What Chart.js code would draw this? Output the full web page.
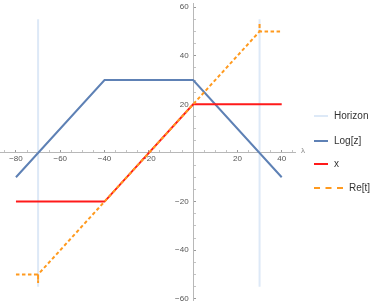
<!DOCTYPE html>
<html>
<head>
<meta charset="utf-8">
<script src="https://cdn.jsdelivr.net/npm/chart.js@4/dist/chart.umd.min.js"></script>
<style>
  body { margin: 0; background: #fff; }
  #wrap { position: relative; width: 374px; height: 308px; }
  #legend { position: absolute; left: 0; top: 0; font-family: "Liberation Sans", Arial, sans-serif; font-size: 10px; color: #333; }
  .item { position: absolute; white-space: nowrap; }
  .swatch { position: absolute; top: 0; }
  .label { position: absolute; top: -6px; }
</style>
</head>
<body>
<div id="wrap">
  <canvas id="my-chart" width="374" height="308"></canvas>
  <div id="legend"></div>
</div>
<script>
// data
const lineX = [-80, -40, 0, 40];
const logZ = [-10, 30, 30, -10];
const xLine = [-20, -20, 20, 20];

const reTX = [-80, -70, -70, -70, 30, 30, 30, 40];
const reTY = [-50, -50, -53.5, -50, 50, 53.5, 50, 50];

const horizonX = [-70, 30];
const horizonTop = 55;
const horizonBottom = -55;

const xTicks = [-80, -60, -40, -20, 20, 40];
const yTicks = [-60, -40, -20, 20, 40, 60];

const names = ["Horizon", "Log[z]", "x", "Re[t]"];

const toPoints = (xs, ys) => xs.map((x, i) => ({ x: x, y: ys[i] }));

// each horizon is its own vertical segment, null breaks the line
const horizonPts = [];
horizonX.forEach((x) => {
  horizonPts.push({ x: x, y: horizonBottom }, { x: x, y: horizonTop }, { x: x, y: null });
});

const fontFamily = "'Liberation Sans', Arial, sans-serif";

function tickColor(ctx) {
  const v = ctx.tick ? ctx.tick.value : 0;
  if (v === 0) return "rgba(0,0,0,0)";
  return v % 20 === 0 ? "#999" : "#c4c4c4";
}

function fmt(list, tail) {
  return function (value) {
    if (!list.includes(value)) return "";
    return (value < 0 ? "\u2212" + Math.abs(value) : String(value)) + tail;
  };
}

const noPad = (scale) => {
  scale.paddingLeft = 0;
  scale.paddingRight = 0;
  scale.paddingTop = 0;
  scale.paddingBottom = 0;
};

const lambdaLabel = {
  id: "lambdaLabel",
  afterDraw(chart) {
    const ctx = chart.ctx;
    const xs = chart.scales.x;
    const ys = chart.scales.y;
    ctx.save();
    ctx.font = "8px " + fontFamily;
    ctx.fillStyle = "#888";
    ctx.textAlign = "left";
    ctx.textBaseline = "middle";
    ctx.fillText("\u03bb", xs.right + 6, ys.getPixelForValue(0) - 2);
    ctx.restore();
  },
};

const ctx = document.getElementById("my-chart").getContext("2d");
const chart = new Chart(ctx, {
  type: "scatter",
  data: {
    datasets: [
      {
        label: names[0],
        data: horizonPts,
        showLine: true,
        spanGaps: false,
        borderColor: "#dde9f7",
        borderWidth: 2,
        pointRadius: 0,
        order: 3,
      },
      {
        label: names[1],
        data: toPoints(lineX, logZ),
        showLine: true,
        borderColor: "#5e81b5",
        borderWidth: 2,
        pointRadius: 0,
        order: 2,
      },
      {
        label: names[2],
        data: toPoints(lineX, xLine),
        showLine: true,
        borderColor: "#ff1a1a",
        borderWidth: 2,
        pointRadius: 0,
        order: 1,
      },
      {
        label: names[3],
        data: toPoints(reTX, reTY),
        showLine: true,
        borderColor: "#ff9a1f",
        borderWidth: 2,
        borderDash: [3.5, 2.5],
        pointRadius: 0,
        order: 0,
      },
    ],
  },
  options: {
    responsive: false,
    devicePixelRatio: 1,
    animation: false,
    layout: { padding: { left: 0, right: 79, top: 3, bottom: 8 } },
    plugins: { legend: { display: false }, tooltip: { enabled: false } },
    scales: {
      x: {
        type: "linear",
        min: -87.2,
        max: 46,
        position: { y: 0 },
        afterFit: noPad,
        border: { color: "#b8b8b8", width: 1 },
        grid: { drawOnChartArea: false, tickLength: -3, color: tickColor },
        ticks: {
          stepSize: 5,
          includeBounds: false,
          autoSkip: false,
          maxRotation: 0,
          padding: 4,
          color: "#555",
          font: { size: 8, family: fontFamily },
          callback: fmt(xTicks, ""),
        },
      },
      y: {
        type: "linear",
        min: -60.5,
        max: 61.7,
        position: { x: 0 },
        afterFit: noPad,
        border: { color: "#b8b8b8", width: 1 },
        grid: { drawOnChartArea: false, tickLength: -3, color: tickColor },
        ticks: {
          stepSize: 5,
          includeBounds: false,
          autoSkip: false,
          padding: 1,
          color: "#555",
          font: { size: 8, family: fontFamily },
          // trailing spaces keep the right-aligned labels off the axis line
          callback: fmt(yTicks, "  "),
        },
      },
    },
  },
  plugins: [lambdaLabel],
});

// legend built from the datasets
const legendPos = [116, 141, 164, 188];
const swatchLen = [14, 14, 14, 29];
const $legend = document.getElementById("legend");
chart.data.datasets.forEach((ds, i) => {
  const item = document.createElement("div");
  item.className = "item";
  item.style.left = "314px";
  item.style.top = legendPos[i] + "px";
  const sw = document.createElement("div");
  sw.className = "swatch";
  sw.style.width = swatchLen[i] + "px";
  sw.style.top = "-1px";
  sw.style.borderTop = "2px " + (ds.borderDash ? "dashed " : "solid ") + ds.borderColor;
  const lab = document.createElement("div");
  lab.className = "label";
  lab.style.left = swatchLen[i] + 6 + "px";
  lab.textContent = ds.label;
  item.appendChild(sw);
  item.appendChild(lab);
  $legend.appendChild(item);
});
</script>
</body>
</html>
